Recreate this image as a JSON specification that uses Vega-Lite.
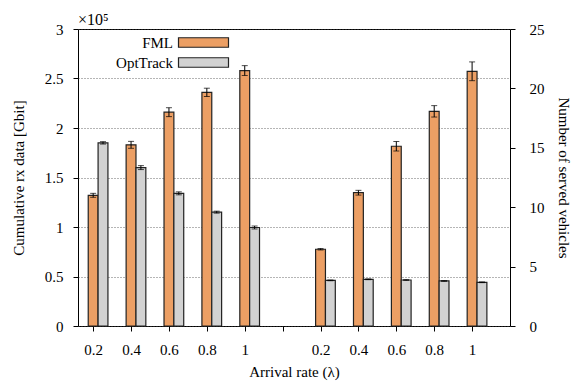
{
  "$schema": "https://vega.github.io/schema/vega-lite/v6.json",
  "width": 432,
  "height": 297,
  "autosize": {"type": "none"},
  "padding": {"left": 78, "top": 29, "right": 61, "bottom": 61},
  "config": {
    "font": "Liberation Serif",
    "view": {"stroke": "black", "strokeWidth": 1},
    "style": {
      "guide-label": {"font": "Liberation Serif"},
      "guide-title": {"font": "Liberation Serif"}
    },
    "axis": {
      "labelFont": "Liberation Serif",
      "titleFont": "Liberation Serif",
      "labelFontSize": 15,
      "titleFontSize": 15,
      "titleFontWeight": "normal",
      "labelColor": "black",
      "titleColor": "black",
      "tickColor": "black",
      "tickSize": 5,
      "domain": false,
      "grid": false,
      "labelFlush": false
    },
    "legend": {
      "orient": "none",
      "legendX": 118,
      "legendY": 6,
      "direction": "vertical",
      "symbolType": "M-5,-0.95H5V0.95H-5Z",
      "symbolSize": 100,
      "symbolStrokeColor": "#222222",
      "symbolStrokeWidth": 1.2,
      "labelAlign": "right",
      "labelOffset": -38,
      "labelFontSize": 15,
      "labelFont": "Liberation Serif",
      "labelColor": "black",
      "rowPadding": 4,
      "padding": 0
    }
  },
  "title": {
    "text": "×10⁵",
    "anchor": "start",
    "frame": "group",
    "fontSize": 16,
    "fontWeight": "normal",
    "font": "Liberation Serif",
    "color": "black",
    "offset": 4,
    "dy": 23,
    "baseline": "alphabetic"
  },
  "data": {
    "values": [
      {"group": "rx", "rate": 0.2, "method": "FML", "value": 1.32, "err": 0.02},
      {"group": "rx", "rate": 0.4, "method": "FML", "value": 1.83, "err": 0.035},
      {"group": "rx", "rate": 0.6, "method": "FML", "value": 2.16, "err": 0.045},
      {"group": "rx", "rate": 0.8, "method": "FML", "value": 2.36, "err": 0.042},
      {"group": "rx", "rate": 1.0, "method": "FML", "value": 2.58, "err": 0.05},
      {"group": "rx", "rate": 0.2, "method": "OptTrack", "value": 1.85, "err": 0.012},
      {"group": "rx", "rate": 0.4, "method": "OptTrack", "value": 1.60, "err": 0.02},
      {"group": "rx", "rate": 0.6, "method": "OptTrack", "value": 1.34, "err": 0.015},
      {"group": "rx", "rate": 0.8, "method": "OptTrack", "value": 1.15, "err": 0.01},
      {"group": "rx", "rate": 1.0, "method": "OptTrack", "value": 0.995, "err": 0.015},
      {"group": "vehicles", "rate": 0.2, "method": "FML", "value": 6.46, "err": 0.06},
      {"group": "vehicles", "rate": 0.4, "method": "FML", "value": 11.22, "err": 0.2},
      {"group": "vehicles", "rate": 0.6, "method": "FML", "value": 15.13, "err": 0.4},
      {"group": "vehicles", "rate": 0.8, "method": "FML", "value": 18.07, "err": 0.48},
      {"group": "vehicles", "rate": 1.0, "method": "FML", "value": 21.44, "err": 0.79},
      {"group": "vehicles", "rate": 0.2, "method": "OptTrack", "value": 3.84, "err": 0.03},
      {"group": "vehicles", "rate": 0.4, "method": "OptTrack", "value": 3.93, "err": 0.03},
      {"group": "vehicles", "rate": 0.6, "method": "OptTrack", "value": 3.87, "err": 0.03},
      {"group": "vehicles", "rate": 0.8, "method": "OptTrack", "value": 3.79, "err": 0.03},
      {"group": "vehicles", "rate": 1.0, "method": "OptTrack", "value": 3.68, "err": 0.03}
    ]
  },
  "transform": [
    {"calculate": "(datum.group === 'vehicles' ? 6 : 0) + round(datum.rate * 5) - 1 + (datum.method === 'FML' ? 0 : 0.26)", "as": "pos"},
    {"calculate": "datum.pos - 0.13", "as": "xl"},
    {"calculate": "datum.pos + 0.13", "as": "xr"},
    {"calculate": "datum.value - datum.err", "as": "lo"},
    {"calculate": "datum.value + datum.err", "as": "hi"}
  ],
  "layer": [
    {
      "transform": [{"filter": "datum.group === 'rx'"}],
      "layer": [
        {
          "mark": {"type": "bar", "stroke": "#222222", "strokeWidth": 1.2},
          "encoding": {
            "x": {
              "field": "xl",
              "type": "quantitative",
              "scale": {"domain": [-0.4, 11], "nice": false, "zero": false},
              "axis": {
                "values": [0, 1, 2, 3, 4, 5, 6, 7, 8, 9, 10],
                "labelExpr": "datum.value === 5 ? '' : format((datum.value % 6 + 1) * 0.2, '.1~f')",
                "labelPadding": 11,
                "titlePadding": 7
              },
              "title": "Arrival rate (λ)"
            },
            "x2": {"field": "xr"},
            "y": {
              "field": "value",
              "type": "quantitative",
              "scale": {"domain": [0, 3], "nice": false},
              "axis": {
                "orient": "left",
                "values": [0, 0.5, 1, 1.5, 2, 2.5, 3],
                "format": "~g",
                "grid": true,
                "gridColor": "#444444",
                "gridDash": [1, 2],
                "gridWidth": 0.8,
                "labelPadding": 10,
                "titlePadding": 18
              },
              "title": "Cumulative rx data [Gbit]"
            },
            "y2": {"datum": 0},
            "fill": {
              "field": "method",
              "type": "nominal",
              "scale": {"domain": ["FML", "OptTrack"], "range": ["#ec9f64", "#d2d2d2"]},
              "legend": {"title": null}
            }
          }
        },
        {
          "mark": {"type": "errorbar", "color": "black", "thickness": 1, "ticks": {"size": 6, "color": "black"}},
          "encoding": {
            "x": {
              "field": "pos",
              "type": "quantitative",
              "axis": {
                "values": [0, 1, 2, 3, 4, 5, 6, 7, 8, 9, 10],
                "labelExpr": "datum.value === 5 ? '' : format((datum.value % 6 + 1) * 0.2, '.1~f')",
                "labelPadding": 11,
                "titlePadding": 7
              },
              "title": "Arrival rate (λ)"
            },
            "y": {
              "field": "lo",
              "type": "quantitative",
              "axis": {
                "orient": "left",
                "values": [0, 0.5, 1, 1.5, 2, 2.5, 3],
                "format": "~g",
                "grid": true,
                "gridColor": "#444444",
                "gridDash": [1, 2],
                "gridWidth": 0.8,
                "labelPadding": 10,
                "titlePadding": 18
              },
              "title": "Cumulative rx data [Gbit]"
            },
            "y2": {"field": "hi"}
          }
        }
      ]
    },
    {
      "transform": [{"filter": "datum.group === 'vehicles'"}],
      "layer": [
        {
          "mark": {"type": "bar", "stroke": "#222222", "strokeWidth": 1.2},
          "encoding": {
            "x": {
              "field": "xl",
              "type": "quantitative",
              "axis": {
                "values": [0, 1, 2, 3, 4, 5, 6, 7, 8, 9, 10],
                "labelExpr": "datum.value === 5 ? '' : format((datum.value % 6 + 1) * 0.2, '.1~f')",
                "labelPadding": 11,
                "titlePadding": 7
              },
              "title": "Arrival rate (λ)"
            },
            "x2": {"field": "xr"},
            "y": {
              "field": "value",
              "type": "quantitative",
              "scale": {"domain": [0, 25], "nice": false},
              "axis": {
                "orient": "right",
                "values": [0, 5, 10, 15, 20, 25],
                "labelPadding": 14,
                "titlePadding": 11
              },
              "title": "Number of served vehicles"
            },
            "y2": {"datum": 0},
            "fill": {
              "field": "method",
              "type": "nominal",
              "scale": {"domain": ["FML", "OptTrack"], "range": ["#ec9f64", "#d2d2d2"]},
              "legend": {"title": null}
            }
          }
        },
        {
          "mark": {"type": "errorbar", "color": "black", "thickness": 1, "ticks": {"size": 6, "color": "black"}},
          "encoding": {
            "x": {
              "field": "pos",
              "type": "quantitative",
              "axis": {
                "values": [0, 1, 2, 3, 4, 5, 6, 7, 8, 9, 10],
                "labelExpr": "datum.value === 5 ? '' : format((datum.value % 6 + 1) * 0.2, '.1~f')",
                "labelPadding": 11,
                "titlePadding": 7
              },
              "title": "Arrival rate (λ)"
            },
            "y": {
              "field": "lo",
              "type": "quantitative",
              "axis": {
                "orient": "right",
                "values": [0, 5, 10, 15, 20, 25],
                "labelPadding": 14,
                "titlePadding": 11
              },
              "title": "Number of served vehicles"
            },
            "y2": {"field": "hi"}
          }
        }
      ]
    }
  ],
  "resolve": {"scale": {"y": "independent"}}
}
